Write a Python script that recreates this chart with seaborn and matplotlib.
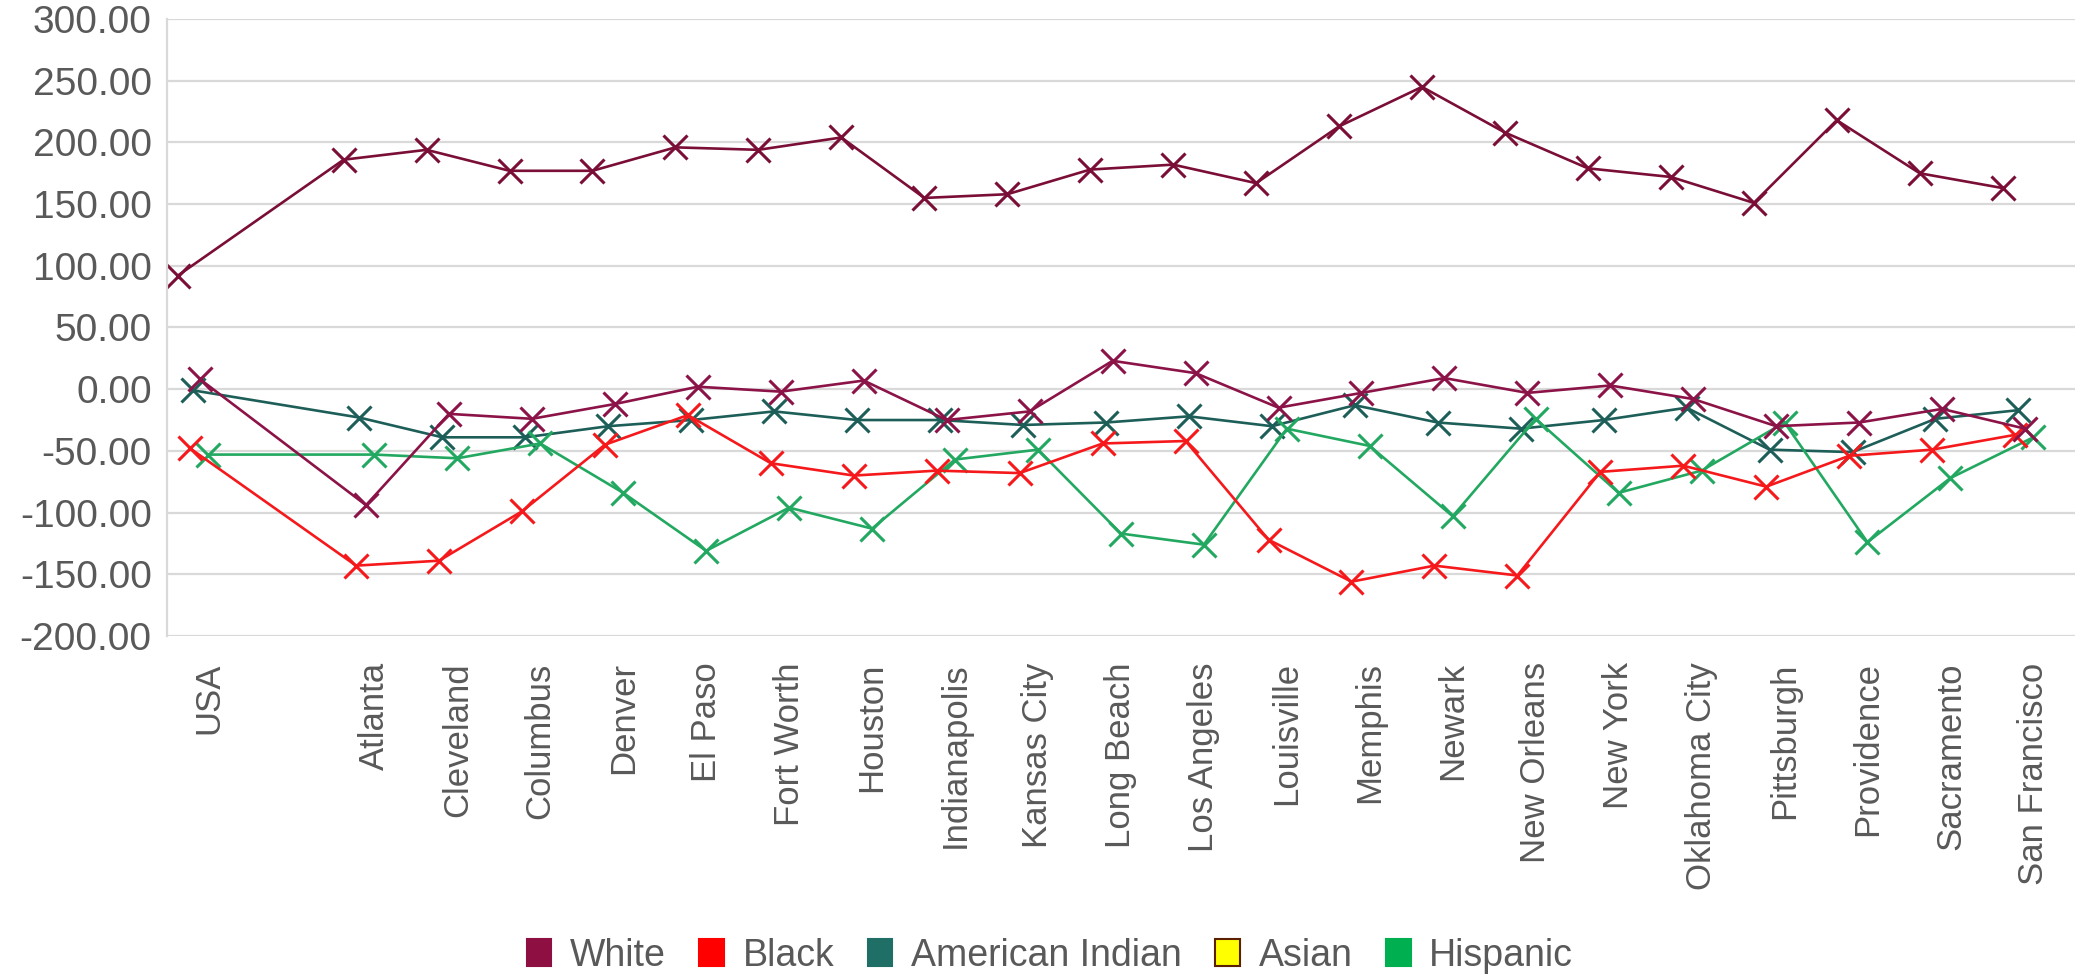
import matplotlib
matplotlib.use("Agg")
import matplotlib.pyplot as plt
import numpy as np
import pandas as pd
import seaborn as sns
from matplotlib.patches import Patch
from matplotlib.ticker import FuncFormatter

# Category axis: national figure, a spacer slot, then the cities
categories = ["USA", "", "Atlanta", "Cleveland", "Columbus", "Denver", "El Paso",
              "Fort Worth", "Houston", "Indianapolis", "Kansas City", "Long Beach",
              "Los Angeles", "Louisville", "Memphis", "Newark", "New Orleans",
              "New York", "Oklahoma City", "Pittsburgh", "Providence", "Sacramento",
              "San Francisco"]

# Values for each group, in the order of the non-empty categories
white = [8, -94, -20, -24, -12, 2, -2, 7, -25, -18, 23, 13, -15, -3, 9, -3, 3,
         -8, -30, -27, -16, -32]
black = [-48, -143, -139, -99, -45, -21, -60, -70, -66, -68, -44, -42, -122,
         -156, -143, -151, -67, -62, -79, -54, -49, -37]
american_indian = [-1, -23, -39, -39, -30, -25, -18, -25, -25, -29, -27, -22,
                   -30, -13, -27, -32, -25, -15, -49, -51, -24, -17]
asian = [92, 186, 194, 177, 177, 196, 194, 204, 155, 158, 178, 182, 167, 213,
         245, 208, 179, 172, 151, 218, 175, 163]
hispanic = [-53, -53, -56, -44, -84, -131, -96, -113, -57, -49, -117, -126,
            -32, -46, -103, -24, -84, -66, -27, -124, -72, -39]

y_ticks = [-200, -150, -100, -50, 0, 50, 100, 150, 200, 250, 300]

groups = ["White", "Black", "American Indian", "Asian", "Hispanic"]
values = {"White": white, "Black": black, "American Indian": american_indian,
          "Asian": asian, "Hispanic": hispanic}

line_colors = {"White": "#8C1347", "Black": "#F5191C", "American Indian": "#1D5F58",
               "Asian": "#7A0E36", "Hispanic": "#22A860"}
swatch_face = {"White": "#8E1042", "Black": "#FF0000", "American Indian": "#1F6F66",
               "Asian": "#FFFF00", "Hispanic": "#00B050"}
swatch_edge = {"White": "#8E1042", "Black": "#FF0000", "American Indian": "#1F6F66",
               "Asian": "#5A2000", "Hispanic": "#00B050"}
# horizontal dodge of each group within its category slot
dodge = {"White": -0.10, "Black": -0.22, "American Indian": -0.18,
         "Asian": -0.37, "Hispanic": 0.0}

slots = [i for i, c in enumerate(categories) if c]
cities = [c for c in categories if c]

df = pd.concat(
    [pd.DataFrame({"city": cities, "slot": slots, "group": g, "value": values[g]})
     for g in groups],
    ignore_index=True,
)
df["x"] = df["slot"] + df["group"].map(dodge)

sns.set_style("white")
plt.rcParams["font.family"] = ["Liberation Sans", "DejaVu Sans"]
plt.rcParams["axes.unicode_minus"] = False

text_color = "#595959"
grid_color = "#D9D9D9"

fig = plt.figure(figsize=(20.79, 9.76), dpi=100)
ax = fig.add_axes([0.0803, 0.3484, 0.9177, 0.6321])

for g in ["Asian", "American Indian", "Hispanic", "Black", "White"]:
    sub = df[df["group"] == g]
    c = line_colors[g]
    sns.lineplot(data=sub, x="x", y="value", ax=ax, color=c, linewidth=1.9,
                 marker="x", markersize=17, markeredgewidth=2.2,
                 markeredgecolor=c, sort=False, estimator=None, legend=False)

ax.set_xlim(-0.5, len(categories) - 0.5)
ax.set_ylim(y_ticks[0], y_ticks[-1])
ax.set_xticks(range(len(categories)))
ax.set_xticklabels(categories, rotation=90, fontsize=25, color=text_color)
ax.set_yticks(y_ticks)
ax.yaxis.set_major_formatter(FuncFormatter(lambda v, _: f"{v:.2f}".replace("\u2212", "-")))
ax.tick_params(axis="y", length=0, pad=11, labelsize=28, labelcolor=text_color)
ax.tick_params(axis="x", length=0, pad=19)
ax.set_xlabel("")
ax.set_ylabel("")

ax.grid(axis="y", color=grid_color, linewidth=1.6)
ax.grid(axis="x", visible=False)
ax.set_axisbelow(True)
for side in ["top", "right", "bottom"]:
    ax.spines[side].set_visible(False)
ax.spines["left"].set_color(grid_color)
ax.spines["left"].set_linewidth(1.6)

handles = [Patch(facecolor=swatch_face[g], edgecolor=swatch_edge[g],
                 linewidth=1.5, label=g) for g in groups]
fig.legend(handles=handles, loc="center", bbox_to_anchor=(0.505, 0.021),
           ncol=len(groups), frameon=False, fontsize=27, labelcolor=text_color,
           handlelength=0.65, handleheight=0.75, handletextpad=0.5,
           columnspacing=0.9)

fig.savefig("out.png", dpi=100)
